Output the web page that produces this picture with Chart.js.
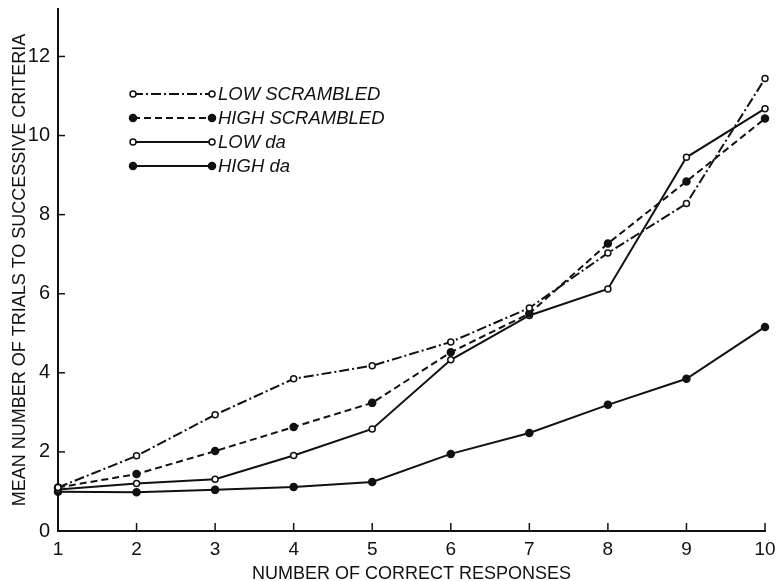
<!DOCTYPE html>
<html lang="en">
<head>
  <meta charset="UTF-8">
  <title>Mean number of trials to successive criteria</title>
  <script src="https://cdn.jsdelivr.net/npm/chart.js"></script>
  <style>
    html, body { margin: 0; padding: 0; background: #fff; }
    canvas { display: block; }
  </style>
</head>
<body>
  <canvas id="chart" width="781" height="581"></canvas>
  <script>
    // Number of correct responses (x axis)
    const responses = [1, 2, 3, 4, 5, 6, 7, 8, 9, 10];
    const yTicks = [0, 2, 4, 6, 8, 10, 12];

    // Mean number of trials
    const lowScrambled  = [1.10, 1.90, 2.94, 3.85, 4.18, 4.78, 5.64, 7.03, 8.28, 11.44];
    const highScrambled = [1.10, 1.44, 2.02, 2.63, 3.24, 4.52, 5.50, 7.27, 8.84, 10.43];
    const lowDa         = [1.05, 1.20, 1.31, 1.91, 2.58, 4.33, 5.45, 6.12, 9.45, 10.68];
    const highDa        = [0.99, 0.98, 1.04, 1.11, 1.24, 1.95, 2.48, 3.19, 3.85, 5.16];

    const ink = '#111';
    const font = '"Liberation Sans", Arial, sans-serif';
    const pts = arr => arr.map((v, i) => ({ x: responses[i], y: v }));

    const series = [
      { label: 'LOW SCRAMBLED',  data: lowScrambled,  dash: [10, 3, 2, 3], open: true },
      { label: 'HIGH SCRAMBLED', data: highScrambled, dash: [7, 4],        open: false },
      { label: 'LOW da',         data: lowDa,         dash: [],            open: true },
      { label: 'HIGH da',        data: highDa,        dash: [],            open: false }
    ];

    // inward tick marks + hand-made legend
    const extras = {
      id: 'extras',
      afterDraw(chart) {
        const ctx = chart.ctx;
        const xs = chart.scales.x, ys = chart.scales.y;
        const a = chart.chartArea;
        ctx.save();
        ctx.strokeStyle = ink;
        ctx.lineWidth = 1.5;
        yTicks.forEach(v => {
          const py = ys.getPixelForValue(v);
          ctx.beginPath(); ctx.moveTo(a.left, py); ctx.lineTo(a.left + 7, py); ctx.stroke();
        });
        responses.forEach(v => {
          const px = xs.getPixelForValue(v);
          ctx.beginPath(); ctx.moveTo(px, a.bottom); ctx.lineTo(px, a.bottom - 8); ctx.stroke();
        });

        // legend
        const x0 = a.left + 75, x1 = a.left + 154;
        series.forEach((s, i) => {
          const y = ys.getPixelForValue(11.05) + i * 24;
          ctx.setLineDash(s.dash);
          ctx.lineWidth = 2;
          ctx.beginPath(); ctx.moveTo(x0, y); ctx.lineTo(x1, y); ctx.stroke();
          ctx.setLineDash([]);
          [x0, x1].forEach(cx => {
            ctx.beginPath();
            ctx.arc(cx, y, s.open ? 3 : 3.5, 0, Math.PI * 2);
            ctx.fillStyle = s.open ? '#fff' : ink;
            ctx.fill();
            ctx.lineWidth = 1.5;
            ctx.stroke();
          });
          ctx.fillStyle = ink;
          ctx.font = 'italic 18.5px ' + font;
          ctx.textBaseline = 'middle';
          ctx.textAlign = 'left';
          ctx.fillText(s.label, x1 + 6, y + 1);
        });
        ctx.restore();
      }
    };

    new Chart(document.getElementById('chart'), {
      type: 'line',
      data: {
        datasets: series.map(s => ({
          label: s.label,
          data: pts(s.data),
          borderColor: ink,
          borderWidth: 2,
          borderDash: s.dash,
          pointRadius: s.open ? 3 : 3.5,
          pointBorderWidth: 1.5,
          pointBorderColor: ink,
          pointBackgroundColor: s.open ? '#fff' : ink,
          tension: 0,
          fill: false,
          clip: false
        }))
      },
      options: {
        responsive: false,
        animation: false,
        layout: { padding: { left: 0, right: 16, top: 9, bottom: 0 } },
        plugins: { legend: { display: false }, tooltip: { enabled: false } },
        scales: {
          x: {
            type: 'linear',
            min: 1,
            max: 10,
            afterBuildTicks: s => { s.ticks = responses.map(v => ({ value: v })); },
            afterFit: s => { s.height = 50; s.paddingLeft = 0; s.paddingRight = 0; },
            grid: { display: false, drawTicks: false },
            border: { display: true, color: ink, width: 2 },
            ticks: {
              color: ink,
              padding: 7,
              maxRotation: 0,
              font: { family: font, size: 19 }
            },
            title: {
              display: true,
              text: 'NUMBER OF CORRECT RESPONSES',
              color: ink,
              padding: { top: 0, bottom: 0 },
              font: { family: font, size: 18, lineHeight: 0.8 }
            }
          },
          y: {
            min: 0,
            max: 13.2,
            afterBuildTicks: s => { s.ticks = yTicks.map(v => ({ value: v })); },
            afterFit: s => { s.width = 58; s.paddingTop = 0; s.paddingBottom = 0; },
            grid: { display: false, drawTicks: false },
            border: { display: true, color: ink, width: 2 },
            ticks: {
              color: ink,
              padding: 8,
              font: { family: font, size: 20 }
            },
            title: {
              display: true,
              text: 'MEAN NUMBER OF TRIALS TO SUCCESSIVE CRITERIA',
              color: ink,
              padding: { top: 11, bottom: 0 },
              font: { family: font, size: 18, lineHeight: 1 }
            }
          }
        }
      },
      plugins: [extras]
    });
  </script>
</body>
</html>
